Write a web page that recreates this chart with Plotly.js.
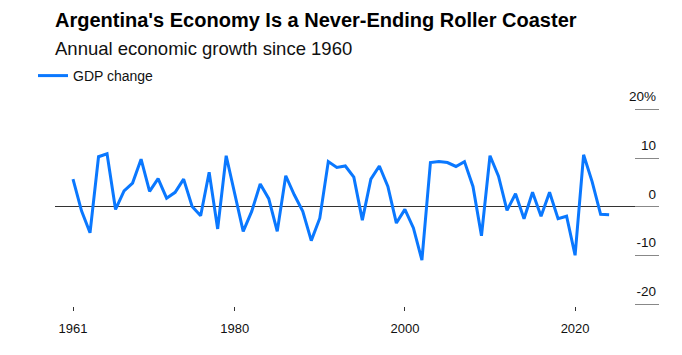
<!DOCTYPE html>
<html>
<head>
<meta charset="utf-8">
<script src="https://cdn.plot.ly/plotly-3.0.1.min.js"></script>
<style>html,body{margin:0;padding:0;background:#fff}#chart{width:682px;height:355px}</style>
</head>
<body>
<div id="chart"></div>
<script>
const years = [1961,1962,1963,1964,1965,1966,1967,1968,1969,1970,
  1971,1972,1973,1974,1975,1976,1977,1978,1979,1980,
  1981,1982,1983,1984,1985,1986,1987,1988,1989,1990,
  1991,1992,1993,1994,1995,1996,1997,1998,1999,2000,
  2001,2002,2003,2004,2005,2006,2007,2008,2009,2010,
  2011,2012,2013,2014,2015,2016,2017,2018,2019,2020,
  2021,2022,2023,2024];
const gdpChange = [5.7,-0.8,-5.3,10.3,10.9,-0.5,3.3,4.9,9.8,3.2,
  5.8,1.8,3.0,5.7,0.1,-1.8,7.1,-4.5,10.5,2.6,
  -5.0,-0.9,4.7,1.7,-5.0,6.4,2.5,-0.9,-6.9,-2.3,
  9.3,8.1,8.4,6.1,-2.7,5.7,8.4,4.2,-3.3,-0.5,
  -4.3,-10.9,9.1,9.3,9.1,8.3,9.3,4.2,-5.9,10.5,
  6.3,-0.7,2.7,-2.4,3.0,-1.9,3.0,-2.4,-1.9,-9.9,
  10.7,5.2,-1.5,-1.6];
const xTickVals = [1961,1980,2000,2020];
const xTickText = ['1961','1980','2000','2020'];
const yTickVals = [-20,-10,0,10,20];
const yTickText = ['-20','-10','0','10','20%'];

const font = '"Liberation Sans", Arial, Helvetica, sans-serif';
const yRange = [-20.3, 25];

const traces = [{
  x: years, y: gdpChange, type: 'scatter', mode: 'lines', name: 'GDP change',
  line: {color: '#0a78ff', width: 3}, hoverinfo: 'x+y'
}, {
  // invisible helper trace so the label axis (y2) is drawn
  x: [years[0]], y: [0], yaxis: 'y2', type: 'scatter', mode: 'markers',
  marker: {opacity: 0}, showlegend: false, hoverinfo: 'skip'
}];

const layout = {
  width: 682, height: 355,
  margin: {l: 55, r: 23, t: 84.5, b: 48.5, autoexpand: false},
  paper_bgcolor: '#fff', plot_bgcolor: '#fff',
  font: {family: font, color: '#111', size: 13},
  title: {
    text: "Argentina's Economy Is a Never-Ending Roller Coaster",
    font: {family: font, size: 20, color: '#000', weight: 700},
    xref: 'container', yref: 'container', x: 55/682, xanchor: 'left',
    y: 1 - 20/355, yanchor: 'middle'
  },
  annotations: [{
    text: 'Annual economic growth since 1960', showarrow: false,
    xref: 'paper', yref: 'paper', x: 0, xanchor: 'left', xshift: -1,
    y: (306.5 - 48) / 222, yanchor: 'middle', borderpad: 0,
    font: {family: font, size: 18.5, color: '#111'}
  }],
  showlegend: true,
  legend: {
    xref: 'container', yref: 'container', x: 33/682, xanchor: 'left',
    y: 1 - 76/355, yanchor: 'middle', orientation: 'h',
    font: {family: font, size: 14, color: '#111'}, bgcolor: 'rgba(0,0,0,0)'
  },
  xaxis: {
    range: [1958.885, 2029.86], tickvals: xTickVals, ticktext: xTickText,
    showgrid: false, zeroline: false, showline: false,
    ticks: 'outside', ticklen: 4, tickcolor: '#333', tickwidth: 1,
    ticklabelstandoff: 6,
    tickfont: {family: font, size: 13, color: '#111'}, fixedrange: true
  },
  yaxis: {
    range: yRange, side: 'right', tickvals: yTickVals,
    showticklabels: false, showgrid: false, showline: false,
    zeroline: true, zerolinecolor: '#333', zerolinewidth: 1,
    ticks: 'inside', ticklen: 24, tickcolor: '#888', tickwidth: 1,
    fixedrange: true
  },
  yaxis2: {
    range: yRange, overlaying: 'y', side: 'right', tickvals: yTickVals, ticktext: yTickText,
    showgrid: false, showline: false, zeroline: false, ticks: '',
    ticklabelposition: 'inside', ticklabelshift: -13,
    tickfont: {family: font, size: 13.5, color: '#111'}, fixedrange: true
  }
};

Plotly.newPlot('chart', traces, layout, {displayModeBar: false, staticPlot: true});
</script>
</body>
</html>
